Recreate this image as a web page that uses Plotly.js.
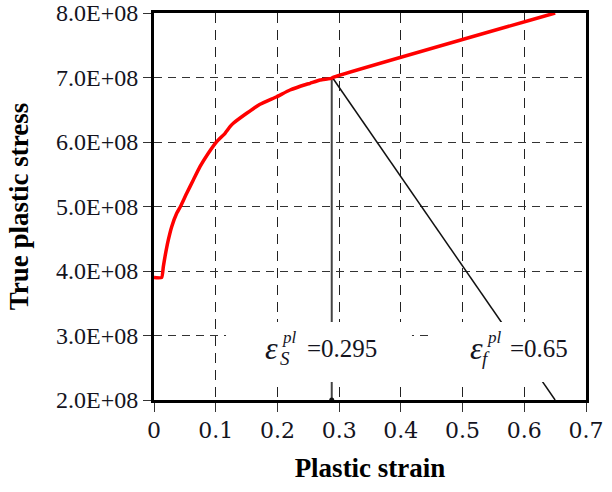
<!DOCTYPE html>
<html>
<head>
<meta charset="utf-8">
<script src="https://cdn.plot.ly/plotly-3.0.1.min.js"></script>
<style>html,body{margin:0;padding:0;background:#fff;}</style>
</head>
<body>
<div id="chart" style="width:612px;height:492px"></div>
<script>
// True plastic stress–strain curve
const strain = [0, 0.0125, 0.0151, 0.0178, 0.0232, 0.0287, 0.0368, 0.0433, 0.0530, 0.0637, 0.0745, 0.0880, 0.1016, 0.1151, 0.1232, 0.1285, 0.1502, 0.1718, 0.1988, 0.2204, 0.2474, 0.2528, 0.2690, 0.2880, 0.2896, 0.65];
const stress = [3.90e8, 3.90e8, 4.067e8, 4.222e8, 4.481e8, 4.687e8, 4.895e8, 5.008e8, 5.205e8, 5.411e8, 5.617e8, 5.825e8, 6.005e8, 6.135e8, 6.237e8, 6.290e8, 6.445e8, 6.585e8, 6.702e8, 6.806e8, 6.895e8, 6.910e8, 6.961e8, 6.988e8, 7.0e8, 8.0e8];

// Construction lines: vertical at onset strain, diagonal to fracture strain
const onsetX = [0.288, 0.288];
const onsetY = [7.0e8, 2.0e8];
const fracX = [0.289, 0.65];
const fracY = [7.0e8, 2.0e8];

const xTicks = [0, 0.1, 0.2, 0.3, 0.4, 0.5, 0.6, 0.7];
const xTickText = ['0', '0.1', '0.2', '0.3', '0.4', '0.5', '0.6', '0.7'];
const yTicks = [2e8, 3e8, 4e8, 5e8, 6e8, 7e8, 8e8];
const yTickText = ['2.0E+08', '3.0E+08', '4.0E+08', '5.0E+08', '6.0E+08', '7.0E+08', '8.0E+08'];

const famX = 'DejaVu Serif';
const famY = 'Liberation Serif';
const famA = 'Times New Roman';
const txt = '#14141e';

const traces = [
  {x: onsetX, y: onsetY, mode: 'lines', line: {color: '#444', width: 2}, hoverinfo: 'skip'},
  {x: [onsetX[1]], y: [onsetY[1]], mode: 'markers', marker: {color: '#111', size: 5}, hoverinfo: 'skip'},
  {x: fracX, y: fracY, mode: 'lines', line: {color: '#111', width: 1.5}, hoverinfo: 'skip'},
  {x: strain, y: stress, mode: 'lines', line: {color: '#ff0000', width: 3.5, shape: 'spline', smoothing: 0.4}, hoverinfo: 'skip'}
];

const ann = (x, y, text, size) => ({
  x: x, y: y, xref: 'x', yref: 'y', xanchor: 'left', yanchor: 'middle',
  text: text, showarrow: false,
  font: {family: famA, size: size, color: txt}
});

const layout = {
  width: 612, height: 492,
  margin: {l: 154, r: 26, t: 13, b: 92},
  paper_bgcolor: '#fff', plot_bgcolor: '#fff',
  showlegend: false,
  xaxis: {
    range: [0, 0.7], tickvals: xTicks, ticktext: xTickText,
    showline: true, linewidth: 3, linecolor: '#000', mirror: true,
    ticks: 'outside', ticklen: 9, tickcolor: '#333', tickwidth: 1,
    showgrid: true, gridcolor: '#222', gridwidth: 1, griddash: '10px,7px',
    zeroline: false,
    tickfont: {family: famX, size: 22, color: txt},
    title: {text: 'Plastic strain', font: {family: famY, size: 27, weight: 'bold', color: '#000'}, standoff: 16}
  },
  yaxis: {
    range: [2e8, 8e8], tickvals: yTicks, ticktext: yTickText,
    showline: true, linewidth: 3, linecolor: '#000', mirror: true,
    ticks: 'outside', ticklen: 8, tickcolor: '#333', tickwidth: 1,
    showgrid: true, gridcolor: '#333', gridwidth: 1, griddash: '8px,6px',
    zeroline: false,
    tickfont: {family: famY, size: 24, color: txt},
    title: {text: 'True plastic stress', font: {family: famY, size: 27, weight: 'bold', color: '#000'}, standoff: 20}
  },
  shapes: [
    {type: 'rect', xref: 'x', yref: 'y', x0: 0.1167, x1: 0.418, y0: 2.279e8, y1: 3.209e8, fillcolor: '#fff', line: {width: 0}, layer: 'above'},
    {type: 'rect', xref: 'x', yref: 'y', x0: 0.449, x1: 0.694, y0: 2.279e8, y1: 3.209e8, fillcolor: '#fff', line: {width: 0}, layer: 'above'}
  ],
  annotations: [
    ann(0.1766, 2.80e8, '<i>ε</i>', 32),
    ann(0.2042, 2.965e8, '<i>pl</i>', 17),
    ann(0.2009, 2.643e8, '<i>S</i>', 19),
    ann(0.2447, 2.791e8, '=0.295', 25),
    ann(0.5088, 2.80e8, '<i>ε</i>', 32),
    ann(0.5364, 2.965e8, '<i>pl</i>', 17),
    ann(0.5283, 2.636e8, '<i>f</i>', 19),
    ann(0.5737, 2.791e8, '=0.65', 25)
  ]
};

Plotly.newPlot('chart', traces, layout, {displayModeBar: false, staticPlot: true});
</script>
</body>
</html>
